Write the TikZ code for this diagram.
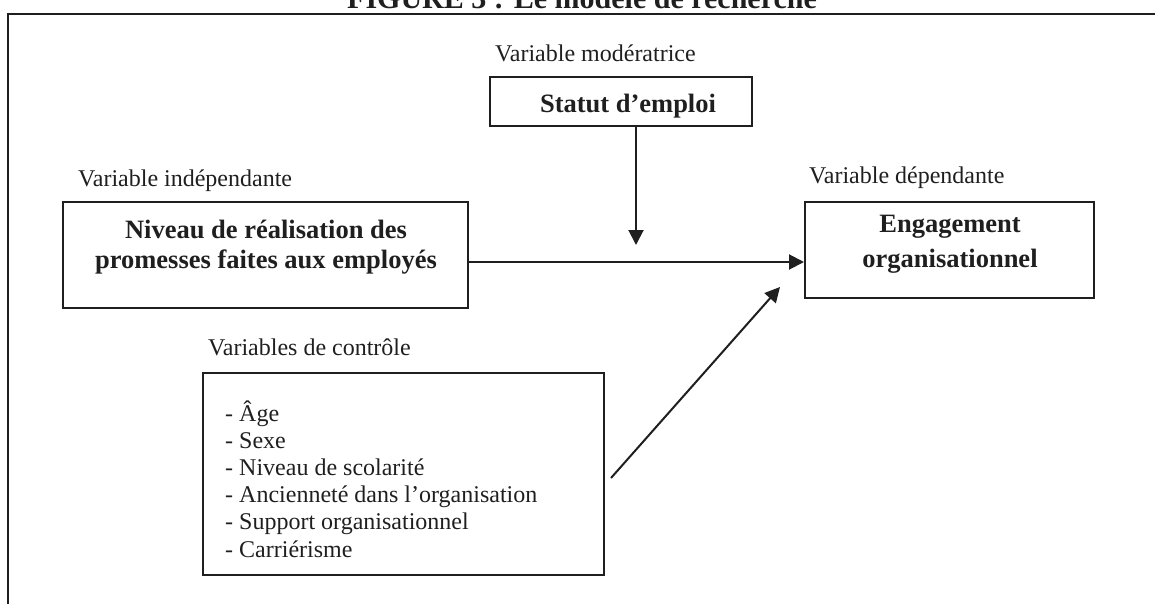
\documentclass[tikz,border=0pt]{standalone}
\usepackage{fontspec}
\setmainfont{Liberation Serif}
\usetikzlibrary{arrows.meta}
\begin{document}
\begin{tikzpicture}[x=1pt,y=-1pt,
  lbl/.style={font=\fontsize{24}{28}\selectfont, inner sep=0pt, text=black!88},
  boldtxt/.style={font=\fontsize{26.5}{30}\selectfont\bfseries, inner sep=0pt, align=center, text=black!88},
  boxshape/.style={draw=black!88, line width=2pt, rectangle, inner sep=0pt},
  arr/.style={draw=black!88, line width=2pt, -{Triangle[length=15pt,width=15pt]}}]
\useasboundingbox (0,0) rectangle (1155,604);
% title (cut at the top)
\node[font=\fontsize{30}{36}\selectfont\bfseries, anchor=base, inner sep=0pt, text=black!88] (title) at (582,9) {FIGURE 3 : Le modèle de recherche};
% outer frame
\draw[black!88, line width=2.5pt] (1170,14) -- (8,14) -- (8,620);
% moderator
\node[lbl, anchor=base west] (modlbl) at (495,62) {Variable modératrice};
\node[boxshape, minimum width=262pt, minimum height=49pt] (statut) at (621,101.5) {};
\node[boldtxt, anchor=base] (statuttxt) at (628,113) {Statut d’emploi};
% independent
\node[lbl, anchor=base west] (indlbl) at (78,186) {Variable indépendante};
\node[boxshape, minimum width=405pt, minimum height=106pt] (niveau) at (265.5,255) {};
\node[boldtxt] (niveautxt) at (266,247) {Niveau de réalisation des\\promesses faites aux employés};
% dependent
\node[lbl, anchor=base west] (deplbl) at (809,183) {Variable dépendante};
\node[boxshape, minimum width=289pt, minimum height=96pt] (engag) at (949.5,250) {};
\node[boldtxt, font=\fontsize{26.5}{35}\selectfont\bfseries] (engagtxt) at (950,244) {Engagement\\organisationnel};
% control
\node[lbl, anchor=base west] (ctrllbl) at (208,355) {Variables de contrôle};
\node[boxshape, minimum width=401pt, minimum height=202pt] (ctrl) at (403.5,474) {};
\foreach \t [count=\i] in {- Âge, - Sexe, - Niveau de scolarité, - Ancienneté dans l’organisation, - Support organisationnel, - Carriérisme}
  \node[lbl, anchor=base west] (item\i) at (225,{421+27.2*(\i-1)}) {\t};
% connectors
\coordinate (modtip) at (636,245);
\coordinate (hy) at (0,262);
\coordinate (diagtip) at (780,287);
\draw[arr] (statut.south -| modtip) -- (modtip);
\draw[arr] (niveau.east |- hy) -- (engag.west |- hy);
\draw[arr] ([shift={(6pt,-4pt)}]ctrl.east) -- (diagtip);
\end{tikzpicture}
\end{document}
